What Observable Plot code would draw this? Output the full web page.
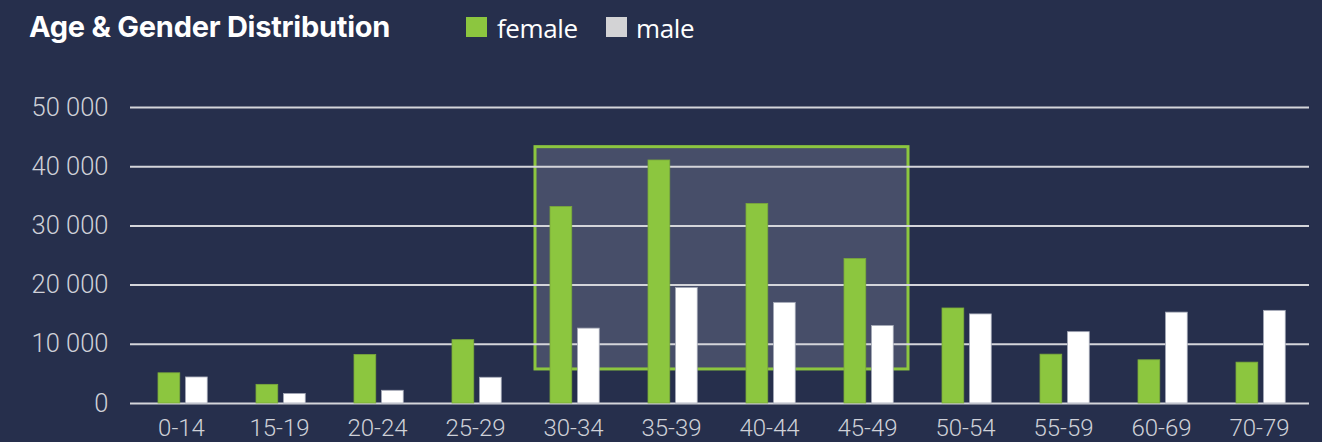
<!DOCTYPE html>
<html>
<head>
<meta charset="utf-8">
<script src="https://cdn.jsdelivr.net/npm/d3@7"></script>
<script src="https://cdn.jsdelivr.net/npm/@observablehq/plot@0.6"></script>
<style>
  html, body { margin: 0; padding: 0; background: #262f4c; width: 1322px; height: 442px; overflow: hidden; }
  #header { position: relative; height: 60px; }
  #title { position: absolute; left: 29px; top: 11.5px; font: 700 29px/29px Inter, sans-serif; letter-spacing: -0.25px; color: #ffffff; white-space: nowrap; }
  .sw { position: absolute; top: 17px; width: 21px; height: 20px; }
  .lt { position: absolute; top: 14.5px; font: 400 26px/26px "Open Sans", sans-serif; color: #ffffff; letter-spacing: -0.4px; white-space: nowrap; }
  #chart svg { display: block; }
</style>
</head>
<body>
<div id="header">
  <div id="title">Age &amp; Gender Distribution</div>
  <div class="sw" style="left:466px;background:#8cc63f"></div>
  <div class="lt" style="left:497px">female</div>
  <div class="sw" style="left:606px;background:#d3d3d5"></div>
  <div class="lt" style="left:636px">male</div>
</div>
<div id="chart"></div>
<script>
const ages = ["0-14","15-19","20-24","25-29","30-34","35-39","40-44","45-49","50-54","55-59","60-69","70-79"];
const female = [5100, 3150, 8200, 10700, 33200, 41050, 33700, 24400, 16050, 8250, 7300, 6900];
const male   = [4400, 1600, 2150, 4350, 12650, 19500, 17000, 13100, 15050, 12050, 15350, 15650];
const yTicks = [0, 10000, 20000, 30000, 40000, 50000];
const yTickLabels = ["0", "10 000", "20 000", "30 000", "40 000", "50 000"];
const highlightAges = ["30-34", "45-49"];
const highlightRange = [5750, 43300];

const femaleData = ages.map((a, i) => ({age: a, value: female[i]}));
const maleData = ages.map((a, i) => ({age: a, value: male[i]}));

const step = (1309 - 130) / ages.length;

const plot = Plot.plot({
  width: 1322,
  height: 382,
  marginTop: 47,
  marginBottom: 39,
  marginLeft: 130,
  marginRight: 13,
  style: {background: "#262f4c", color: "#cfd1d8", fontFamily: "Roboto, sans-serif", fontSize: "24px", fontWeight: 300},
  x: {domain: ages, padding: 0, label: null},
  y: {domain: [0, 50000], label: null},
  marks: [
    Plot.ruleY(yTicks, {stroke: "#d4d5da", strokeWidth: 2}),
    Plot.barY(femaleData, {x: "age", y: "value", fill: "#8cc63f", stroke: "#7aa93b", strokeWidth: 0.8, insetLeft: 26, insetRight: step - 48}),
    Plot.barY(maleData, {x: "age", y: "value", fill: "#ffffff", stroke: "#a4a8b6", strokeWidth: 0.8, insetLeft: 53.5, insetRight: step - 75.5}),
    Plot.axisX({tickSize: 0, tickPadding: 15, fontSize: 24, letterSpacing: -1, label: null}),
    Plot.axisY({ticks: yTicks, tickSize: 0, tickPadding: 22, fontSize: 25.5, letterSpacing: -0.4, label: null,
      tickFormat: d => yTickLabels[yTicks.indexOf(d)]})
  ]
});

// Highlight box for the peak age groups, positioned through the plot's own scales
const xs = plot.scale("x");
const ys = plot.scale("y");
const x1 = xs.apply(highlightAges[0]) + 11;
const x2 = xs.apply(highlightAges[1]) + xs.bandwidth - 8;
const y1 = ys.apply(highlightRange[1]);
const y2 = ys.apply(highlightRange[0]);
const ns = "http://www.w3.org/2000/svg";
const rect = document.createElementNS(ns, "rect");
rect.setAttribute("x", x1);
rect.setAttribute("y", y1);
rect.setAttribute("width", x2 - x1);
rect.setAttribute("height", y2 - y1);
rect.setAttribute("fill", "#474e69");
rect.setAttribute("stroke", "#8cc63f");
rect.setAttribute("stroke-width", 3);
const firstG = plot.querySelector("g");
plot.insertBefore(rect, firstG);

document.getElementById("chart").appendChild(plot);
</script>
</body>
</html>
